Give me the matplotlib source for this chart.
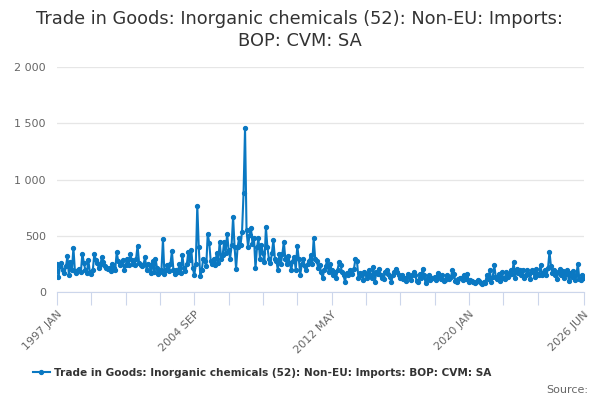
import matplotlib
matplotlib.use("Agg")
import matplotlib.pyplot as plt
import numpy as np

plt.rcParams['font.family'] = ['DejaVu Sans']

title = "Trade in Goods: Inorganic chemicals (52): Non-EU: Imports:\nBOP: CVM: SA"
series_name = "Trade in Goods: Inorganic chemicals (52): Non-EU: Imports: BOP: CVM: SA"
start_year = 1997
months = ["JAN", "FEB", "MAR", "APR", "MAY", "JUN", "JUL", "AUG", "SEP", "OCT", "NOV", "DEC"]

# monthly values, 1997 JAN .. 2026 JUN
v1997 = [250, 135, 230, 260, 200, 175, 230, 320, 150, 270, 200, 395]
v1998 = [190, 170, 200, 205, 180, 345, 260, 200, 170, 290, 180, 165]
v1999 = [200, 340, 290, 260, 220, 240, 310, 270, 230, 220, 210, 215]
v2000 = [190, 250, 220, 200, 355, 280, 240, 250, 290, 200, 240, 300]
v2001 = [240, 340, 290, 250, 240, 300, 415, 260, 240, 230, 250, 310]
v2002 = [200, 250, 240, 175, 280, 180, 300, 220, 160, 180, 200, 470]
v2003 = [160, 200, 240, 190, 250, 365, 200, 160, 200, 180, 250, 170]
v2004 = [330, 220, 190, 250, 360, 290, 375, 220, 150, 250, 770, 400]
v2005 = [145, 200, 300, 280, 230, 520, 440, 280, 250, 300, 240, 350]
v2006 = [260, 450, 300, 330, 450, 350, 520, 380, 300, 420, 670, 400]
v2007 = [210, 400, 480, 420, 540, 880, 1460, 550, 405, 510, 568, 430]
v2008 = [480, 213, 400, 480, 300, 420, 350, 270, 577, 400, 300, 257]
v2009 = [350, 464, 300, 280, 198, 340, 250, 340, 450, 300, 250, 320]
v2010 = [260, 200, 280, 310, 200, 414, 300, 154, 250, 300, 238, 200]
v2011 = [250, 280, 330, 250, 480, 300, 280, 220, 240, 180, 124, 200]
v2012 = [230, 287, 180, 250, 200, 150, 180, 125, 200, 272, 240, 180]
v2013 = [150, 95, 170, 150, 200, 180, 160, 210, 300, 280, 124, 170]
v2014 = [150, 110, 180, 160, 130, 200, 150, 130, 227, 95, 180, 160]
v2015 = [211, 150, 130, 120, 180, 200, 160, 140, 95, 150, 180, 211]
v2016 = [180, 150, 124, 150, 120, 130, 100, 160, 140, 110, 150, 180]
v2017 = [150, 100, 95, 160, 130, 211, 150, 80, 120, 150, 110, 130]
v2018 = [124, 140, 110, 168, 140, 120, 150, 100, 110, 155, 130, 120]
v2019 = [140, 198, 160, 100, 95, 120, 130, 124, 110, 150, 120, 160]
v2020 = [95, 110, 100, 90, 80, 95, 110, 100, 80, 75, 90, 85]
v2021 = [155, 120, 198, 95, 140, 242, 140, 120, 160, 100, 180, 130]
v2022 = [120, 180, 140, 150, 200, 160, 272, 130, 210, 170, 195, 150]
v2023 = [195, 130, 150, 200, 160, 120, 195, 180, 140, 210, 160, 150]
v2024 = [245, 150, 180, 200, 150, 213, 361, 230, 170, 200, 150, 120]
v2025 = [180, 210, 150, 190, 130, 160, 200, 100, 170, 140, 190, 110]
v2026 = [150, 255, 120, 110, 150, 127]

values = (v1997 + v1998 + v1999 + v2000 + v2001 + v2002 + v2003 + v2004 + v2005 + v2006
          + v2007 + v2008 + v2009 + v2010 + v2011 + v2012 + v2013 + v2014 + v2015 + v2016
          + v2017 + v2018 + v2019 + v2020 + v2021 + v2022 + v2023 + v2024 + v2025 + v2026)
n = len(values)
x = np.arange(n)

def month_label(i):
    return f"{start_year + i // 12} {months[i % 12]}"

y_ticks = [0, 500, 1000, 1500, 2000]
y_tick_labels = ["0", "500", "1 000", "1 500", "2 000"]

fig = plt.figure(figsize=(6, 4), dpi=100)
ax = fig.add_axes([0.095, 0.269, 0.878, 0.5635])

color = "#0a78c2"
ax.plot(x, values, color=color, lw=1.5, marker='o', ms=2.8, mec=color, mfc=color,
        label=series_name, zorder=3)

ax.set_ylim(0, 2000)
ax.set_xlim(0, n - 1)
ax.set_yticks(y_ticks)
ax.set_yticklabels(y_tick_labels)
ax.yaxis.grid(True, color="#e6e6e6", lw=0.9)
ax.set_axisbelow(True)

minor = list(range(0, n - 1 - 20, 23)) + [n - 1]
major = [0, 92, 184, 276, n - 1]
ax.set_xticks(minor)
ax.set_xticklabels([month_label(i) if i in major else "" for i in minor],
                   rotation=45, ha='right', rotation_mode='anchor')

for s in ['top', 'right', 'left']:
    ax.spines[s].set_visible(False)
ax.spines['bottom'].set_color("#ccd6eb")
ax.tick_params(axis='x', length=9, color="#ccd6eb", labelcolor="#666666", labelsize=8, pad=3)
ax.tick_params(axis='y', length=0, labelcolor="#666666", labelsize=8, pad=8)

fig.text(0.5, 0.925, title, ha='center', va='center', fontsize=12.8, color="#333333",
         linespacing=1.3)

leg = fig.legend(loc='center', bbox_to_anchor=(0.437, 0.068), frameon=False,
                 prop={'weight': 'bold', 'size': 7.6}, handlelength=1.6, handletextpad=0.4)
for t in leg.get_texts():
    t.set_color("#333333")

fig.text(0.98, 0.025, "Source:", ha='right', va='center', fontsize=8, color="#666666")

fig.savefig("out.png", dpi=100)
